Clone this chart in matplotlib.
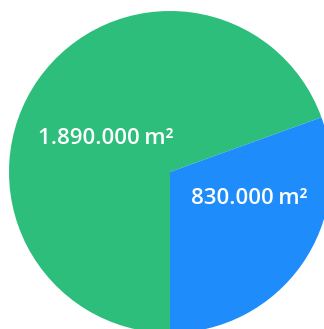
import matplotlib
matplotlib.use("Agg")
import matplotlib.pyplot as plt

labels = ["1.890.000\u2009m²", "830.000\u2009m²"]
values = [1890000, 830000]
colors = ["#2DBE7B", "#1E8CFA"]

W, H = 324, 329
fig = plt.figure(figsize=(W / 100, H / 100), dpi=100)
ax = fig.add_axes([0, 0, 1, 1])

wedges, _ = ax.pie(values, colors=colors, startangle=-90, counterclock=False,
                   center=(170, H - 172), radius=161,
                   wedgeprops=dict(linewidth=0))

# label positions in pixel coords (x, y from top)
label_pos = [(106, 138), (249, 199)]
for lab, (x, y) in zip(labels, label_pos):
    ax.text(x, H - y, lab, ha="center", va="center", color="white",
            fontsize=16, fontweight="semibold", family="Open Sans")

ax.set_xlim(0, W)
ax.set_ylim(0, H)
ax.set_aspect("equal")
ax.axis("off")

fig.savefig("out.png", dpi=100)
